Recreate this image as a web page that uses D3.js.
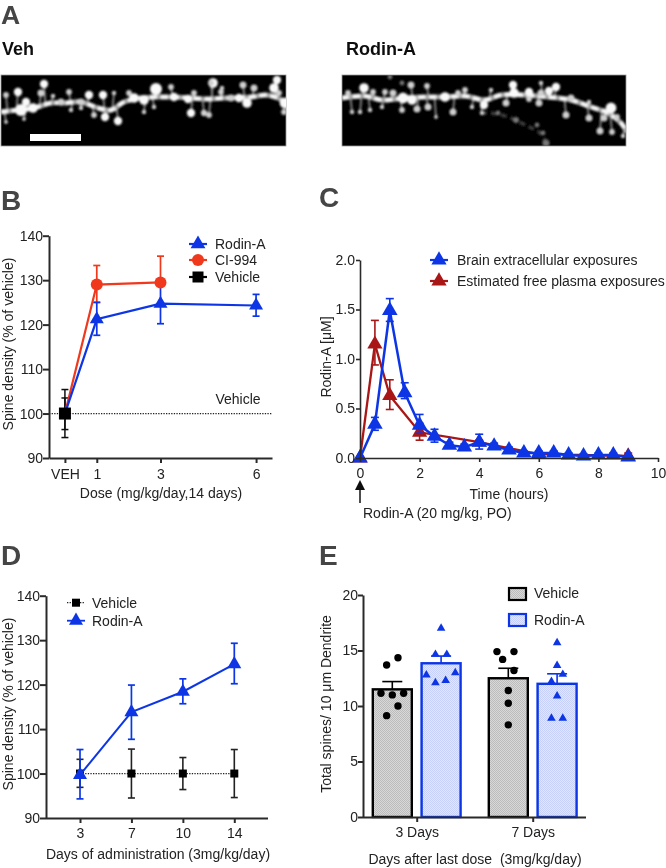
<!DOCTYPE html>
<html><head><meta charset="utf-8">
<script src="https://cdnjs.cloudflare.com/ajax/libs/d3/7.8.5/d3.min.js"></script>
<style>html,body{margin:0;padding:0;background:#fff}svg{display:block}
text{font-family:"Liberation Sans",Arial,sans-serif;fill:#222}</style></head>
<body><svg id="c" width="666" height="868"></svg>
<script>
// ---------- Panel A: micrograph traces (image units) ----------
const vehBackboneX=[0,17,33,50,63,80,97,110,123,140,157,173,190,207,223,250,264,274,286];
const vehBackboneY=[37,35,33,28,28,27,33,35,27,23,22,22,23,24,23,22,20,22,28];
const vehSpines=[[25,27,3],[20,35,4.5],[32,33,3.5],[155,14,4.5],[133,23,3.5],[143,25,3.5],[117,46,3],[104,42,3],[88,20,3],[102,20,3],[17,17,3],[43,9,3],[40,18,2.5],[5,20,2],[212,8,3.5],[190,38,3],[203,38,2.2],[128,18,2],[173,22,3],[143,37,1.5],[153,32,1.5],[68,17,2],[113,18,1.5],[170,12,2],[193,18,2],[220,17,2],[230,23,2.5],[23,44,1.2],[5,47,1.2],[60,27,2.5],[80,27,2.5],[70,35,1.5],[93,40,2],[80,33,1.5],[52,21,1.5],[187,24,3],[276,5,3],[273,13,3.5],[284,28,4],[283,37,2],[278,18,2],[242,10,2.5],[253,13,2.5],[246,28,3.5],[238,23,3],[208,40,2],[221,13,1.5],[210,8,2]];
const rodBackboneX=[0,23,40,63,83,103,123,143,159,182,206,229,249,266,279,285];
const rodBackboneY=[23,21,25,23,22,22,21,25,20,20,22,25,32,38,48,57];
const rodSpines=[[22,13,3.5],[6,18,2],[10,37,1.5],[18,37,1.5],[28,35,1.5],[31,17,2],[43,17,2],[40,32,1.5],[51,18,2.5],[61,23,4],[70,25,3.5],[69,10,2.5],[60,35,2],[75,34,2.5],[86,32,2.5],[85,11,2],[94,42,1.2],[111,37,2.5],[103,22,3.5],[116,18,2],[123,15,2],[130,32,1.5],[140,38,1.5],[171,10,3],[172,18,3.5],[187,17,3],[199,18,2.5],[199,8,1.5],[214,12,3],[207,16,3],[197,28,2.5],[164,28,2.5],[187,24,2],[142,30,3],[224,40,2.5],[229,23,2.5],[247,43,2.5],[247,27,1.5],[269,33,4],[262,43,2.5],[275,42,2],[258,56,2.5],[270,57,2],[281,61,1.5],[149,15,1.5]];
const rodFaintX=[139,156,174,189,201,204];
const rodFaintY=[38,38,45,53,58,70];
const rodFaintDots=[[174,45,2.5],[201,58,2],[195,50,2],[156,38,2],[204,68,3],[48,2,2],[60,8,2]];

// ---------- Panel B ----------
const doseX=[0,1,3,6];
const doseTickLabels=["VEH","1","3","6"];
const rodinDose=[100,121.2,124.7,124.3];
const rodinDoseLo=[100,117.6,120.2,121.9];
const rodinDoseHi=[100,125,129.2,126.8];
const ciDoseX=[0,1,3];
const ciDose=[100,129,129.5];
const ciDoseLo=[100,125,129.2];
const ciDoseHi=[100,133.3,135.4];
const vehDoseLo=[94.6,96.4];
const vehDoseHi=[105.4,103.5];

// ---------- Panel C ----------
const brainT=[0,.5,1,1.5,2,2.5,3,3.5,4,4.5,5,5.5,6,6.5,7,7.5,8,8.5,9];
const brainY=[0,.34,1.49,.66,.33,.22,.13,.11,.16,.12,.08,.05,.05,.05,.03,.02,.03,.03,.01];
const brainLo=[0,.28,1.38,.6,.25,.16,.1,.08,.09,.09,.06,.03,.03,.03,.01,.01,.01,.01,0];
const brainHi=[0,.41,1.61,.76,.44,.29,.16,.14,.24,.15,.11,.07,.07,.07,.05,.04,.05,.05,.02];
const plasmaT=[0,.5,1,2,4,6,9];
const plasmaY=[0,1.15,.63,.26,.16,.04,.02];
const plasmaLo=[0,.94,.49,.18,.14,.0,.0];
const plasmaHi=[0,1.39,.79,.35,.18,.06,.05];

// ---------- Panel D ----------
const dayLabels=["3","7","10","14"];
const vehDays=[100,100,100,100];
const vehDaysLo=[96.9,94.5,96.4,94.6];
const vehDaysHi=[103.2,105.5,103.6,105.4];
const rodDays=[99.7,113.8,118.4,124.6];
const rodDaysLo=[94.3,107.7,115.7,120.2];
const rodDaysHi=[105.4,119.9,121.3,129.3];

// ---------- Panel E ----------
const groupsE=["3 Days","7 Days"];
const vehMeans=[11.5,12.5];
const vehErrTop=[12.2,13.4];
const rodMeans=[13.85,12.0];
const rodErrTop=[14.5,12.9];
const vehPts=[[13.7,14.35,11.15,11,11.15,10,9.13],[14.9,14.9,14.2,13.2,11.4,10.25,8.3]];
const vehSlots=[[-1,1,-2,0,2,1,-1],[-2,1,-1,1,0,0,0]];
const rodPts=[[17,14.65,14.65,12.8,13,12.1,12.3],[15.7,13.65,12.85,12.2,10.9,8.9,8.9]];
const rodSlots=[[0,-1,1,-2.6,2.5,-1,.8],[0,0,1,-1,0,-1,1]];

const BLUE="#0a36e6",RED="#f0381e",DARK="#a81616",INK="#2b2b2b";
const svg=d3.select("#c");
const defs=svg.append("defs");
defs.append("filter").attr("id","soft").attr("x","-5%").attr("y","-5%").attr("width","110%").attr("height","110%")
  .append("feGaussianBlur").attr("stdDeviation",0.4);
defs.append("filter").attr("id","mic").attr("filterUnits","userSpaceOnUse").attr("x",0).attr("y",60).attr("width",666).attr("height",100)
  .append("feGaussianBlur").attr("stdDeviation",1.2);
function dots(id,base,dot){
  const p=defs.append("pattern").attr("id",id).attr("width",2).attr("height",2).attr("patternUnits","userSpaceOnUse");
  p.append("rect").attr("width",2).attr("height",2).attr("fill",base);
  p.append("rect").attr("width",1).attr("height",1).attr("fill",dot);
  p.append("rect").attr("x",1).attr("y",1).attr("width",1).attr("height",1).attr("fill",dot);
}
dots("gdots","#d8d8d8","#bcbcbc");
dots("bdots","#e2e7fc","#c6d0f8");
const root=svg.append("g").attr("filter","url(#soft)");

function label(t,x,y,o={}){
  const s=root.append("text").attr("x",x).attr("y",y).text(t)
    .attr("font-size",o.size||14).attr("text-anchor",o.anchor||"start");
  if(o.bold)s.attr("font-weight","bold");
  if(o.fill)s.style("fill",o.fill);
  if(o.rot)s.attr("transform",`rotate(${o.rot},${x},${y})`);
  return s;
}
function panelLetter(t,x,y,size){label(t,x,y,{size:size||28,bold:true,fill:"#444"});}
function styleAxis(g,w){
  g.selectAll("path,line").attr("stroke",INK).attr("stroke-width",w||2);
  g.selectAll("text").attr("font-size",14).style("font-family",'"Liberation Sans",Arial,sans-serif').style("fill","#222");
  g.attr("font-family",null);
}
const tri=(area)=>d3.symbol(d3.symbolTriangle).size(area)();
function errBars(g,xs,lo,hi,color,cap,w){
  xs.forEach((x,i)=>{
    if(lo[i]===hi[i])return;
    g.append("line").attr("x1",x).attr("x2",x).attr("y1",lo[i]).attr("y2",hi[i]).attr("stroke",color).attr("stroke-width",w);
    [lo[i],hi[i]].forEach(v=>g.append("line").attr("x1",x-cap).attr("x2",x+cap).attr("y1",v).attr("y2",v).attr("stroke",color).attr("stroke-width",w));
  });
}
function pathLine(g,xs,ys,color,w,dash){
  const p=g.append("path").attr("d",d3.line()(xs.map((x,i)=>[x,ys[i]]))).attr("fill","none").attr("stroke",color).attr("stroke-width",w);
  if(dash)p.attr("stroke-dasharray",dash);
}
function marks(g,xs,ys,kind,color,size){
  xs.forEach((x,i)=>{
    if(kind==="tri")g.append("path").attr("d",tri(size)).attr("transform",`translate(${x},${ys[i]})`).attr("fill",color);
    if(kind==="circ")g.append("circle").attr("cx",x).attr("cy",ys[i]).attr("r",size).attr("fill",color);
    if(kind==="sq")g.append("rect").attr("x",x-size/2).attr("y",ys[i]-size/2).attr("width",size).attr("height",size).attr("fill",color);
  });
}

// ===== Panel A =====
panelLetter("A",1,24,26.5);
label("Veh",2,55,{size:18,bold:true,fill:"#111"});
label("Rodin-A",346,55,{size:18,bold:true,fill:"#111"});
function micrograph(id,ox,oy,w,h,bx,by,spines,faint){
  const X=d3.scaleLinear().domain([0,w]).range([ox,ox+w]);
  const Y=d3.scaleLinear().domain([0,h]).range([oy,oy+h]);
  const bb=d3.scaleLinear().domain(bx).range(by);
  defs.append("clipPath").attr("id",id).append("rect").attr("x",ox).attr("y",oy).attr("width",w).attr("height",h);
  root.append("rect").attr("x",ox).attr("y",oy).attr("width",w).attr("height",h).attr("fill","#000").attr("stroke","#999").attr("stroke-width",.8);
  const g=root.append("g").attr("clip-path",`url(#${id})`).append("g").attr("filter","url(#mic)");
  if(faint){
    g.append("path").attr("d",d3.line().curve(d3.curveBasis)(faint.x.map((x,i)=>[X(x),Y(faint.y[i])])))
      .attr("fill","none").attr("stroke","#666").attr("stroke-width",3.5).attr("stroke-dasharray","6 4").attr("opacity",.6);
    faint.d.forEach(s=>g.append("circle").attr("cx",X(s[0])).attr("cy",Y(s[1])).attr("r",s[2]*1.2).attr("fill","#777"));
  }
  spines.forEach((s,i)=>{
    g.append("line").attr("x1",X(s[0])).attr("y1",Y(s[1])).attr("x2",X(s[0]+(i%2?1.5:-1.5))).attr("y2",Y(bb(s[0])))
      .attr("stroke","#8c8c8c").attr("stroke-width",1.8);
  });
  const line=d3.line().curve(d3.curveCatmullRom)(bx.map((x,i)=>[X(x),Y(by[i])]));
  g.append("path").attr("d",line).attr("fill","none").attr("stroke","#a8a8a8").attr("stroke-width",5);
  g.append("path").attr("d",line).attr("fill","none").attr("stroke","#f4f4f4").attr("stroke-width",4.5).attr("stroke-dasharray","7 4");
  spines.forEach(s=>g.append("circle").attr("cx",X(s[0])).attr("cy",Y(s[1])).attr("r",s[2]*1.25+.4).attr("fill",s[2]>=3?"#fafafa":"#d0d0d0"));
}
micrograph("m1",1,75,285,71,vehBackboneX,vehBackboneY,vehSpines);
micrograph("m2",342,75,284,71,rodBackboneX,rodBackboneY,rodSpines,{x:rodFaintX,y:rodFaintY,d:rodFaintDots});
root.append("rect").attr("x",30).attr("y",134).attr("width",51).attr("height",7).attr("fill","#fff");

// ===== Panel B =====
panelLetter("B",1,210);
{
  const x=d3.scaleLinear().domain([-.5,6.5]).range([49,272]);
  const y=d3.scaleLinear().domain([90,140]).range([458,235.7]);
  const g=root.append("g");
  styleAxis(root.append("g").attr("transform","translate(49,0)").call(d3.axisLeft(y).tickValues([90,100,110,120,130,140]).tickSize(6).tickPadding(0).tickSizeOuter(0)));
  styleAxis(root.append("g").attr("transform","translate(0,458)").call(d3.axisBottom(x).tickValues(doseX).tickFormat((d,i)=>doseTickLabels[i]).tickSize(5).tickPadding(6).tickSizeOuter(0)));
  pathLine(g,[x.range()[0],x.range()[1]],[y(100),y(100)],"#222",1.2,"1.3 1.3");
  errBars(g,ciDoseX.map(x),ciDoseLo.map(y),ciDoseHi.map(y),RED,3.5,1.7);
  errBars(g,doseX.map(x),rodinDoseLo.map(y),rodinDoseHi.map(y),BLUE,3.5,1.7);
  errBars(g,[x(0),x(0)],vehDoseLo.map(y),vehDoseHi.map(y),"#111",3.5,1.5);
  pathLine(g,ciDoseX.map(x),ciDose.map(y),RED,2.2);
  pathLine(g,doseX.map(x),rodinDose.map(y),BLUE,2.2);
  marks(g,ciDoseX.slice(1).map(x),ciDose.slice(1).map(y),"circ",RED,6);
  marks(g,doseX.slice(1).map(x),rodinDose.slice(1).map(y),"tri",BLUE,85);
  marks(g,[x(0)],[y(100)],"sq","#000",12);
  label("Vehicle",238,404,{anchor:"middle"});
  label("Spine density (% of vehicle)",13,344,{anchor:"middle",rot:-90});
  label("Dose (mg/kg/day,14 days)",161,498,{anchor:"middle"});
  [["Rodin-A",244,BLUE,"tri"],["CI-994",260,RED,"circ"],["Vehicle",277,"#000","sq"]].forEach(([t,ly,c,k])=>{
    pathLine(root,[189,207],[ly,ly],c,2.2);
    marks(root,[198],[ly],k,c,k==="tri"?95:k==="circ"?6:11);
    label(t,215,ly+5);
  });
}

// ===== Panel C =====
panelLetter("C",319,207);
{
  const x=d3.scaleLinear().domain([0,10]).range([360,658]);
  const y=d3.scaleLinear().domain([0,2]).range([458,260]);
  const g=root.append("g");
  styleAxis(root.append("g").attr("transform","translate(360,0)").call(d3.axisLeft(y).tickValues([0,.5,1,1.5,2]).tickFormat(d3.format(".1f")).tickSize(4).tickPadding(1).tickSizeOuter(0)),1.6);
  styleAxis(root.append("g").attr("transform","translate(0,458)").call(d3.axisBottom(x).tickValues([0,2,4,6,8,10]).tickFormat(d3.format("d")).tickSize(4).tickPadding(6).tickSizeOuter(0)),1.6);
  errBars(g,plasmaT.map(x),plasmaLo.map(y),plasmaHi.map(y),DARK,4,1.6);
  pathLine(g,plasmaT.map(x),plasmaY.map(y),DARK,2.3);
  marks(g,plasmaT.map(x),plasmaY.map(y),"tri",DARK,100);
  errBars(g,brainT.map(x),brainLo.map(y),brainHi.map(y),BLUE,4,1.6);
  pathLine(g,brainT.map(x),brainY.map(y),BLUE,2.5);
  marks(g,brainT.map(x),brainY.map(y),"tri",BLUE,105);
  label("Rodin-A [\u03bcM]",331,357,{anchor:"middle",rot:-90});
  label("Time (hours)",509,499,{anchor:"middle"});
  label("Rodin-A (20 mg/kg, PO)",363,518,{size:14});
  root.append("line").attr("x1",360).attr("x2",360).attr("y1",503).attr("y2",486).attr("stroke","#111").attr("stroke-width",1.5);
  root.append("path").attr("d",d3.line()([[360,480],[355,490],[365,490]])+"Z").attr("fill","#111");
  [["Brain extracellular exposures",260,BLUE],["Estimated free plasma exposures",281,DARK]].forEach(([t,ly,c])=>{
    pathLine(root,[430,448],[ly,ly],c,2.2);
    marks(root,[439],[ly],"tri",c,100);
    label(t,457,ly+5);
  });
}

// ===== Panel D =====
panelLetter("D",1,565);
{
  const x=d3.scalePoint().domain(dayLabels).range([80,234.3]);
  const y=d3.scaleLinear().domain([90,140]).range([818,595.7]);
  const xs=dayLabels.map(d=>x(d));
  const g=root.append("g");
  styleAxis(root.append("g").attr("transform","translate(46,0)").call(d3.axisLeft(y).tickValues([90,100,110,120,130,140]).tickSize(6).tickPadding(0).tickSizeOuter(0)));
  const ax=root.append("g").attr("transform","translate(0,818)").call(d3.axisBottom(x).tickSize(5).tickPadding(5).tickSizeOuter(0));
  ax.select(".domain").attr("d","M46,0.5H268");
  styleAxis(ax);
  errBars(g,xs,vehDaysLo.map(y),vehDaysHi.map(y),"#222",3.5,1.6);
  pathLine(g,xs,vehDays.map(y),"#222",1.2,"1.3 1.3");
  marks(g,xs,vehDays.map(y),"sq","#000",8);
  errBars(g,xs,rodDaysLo.map(y),rodDaysHi.map(y),BLUE,3.5,1.7);
  pathLine(g,xs,rodDays.map(y),BLUE,2);
  marks(g,xs,rodDays.map(y),"tri",BLUE,85);
  label("Spine density (% of vehicle)",13,704,{anchor:"middle",rot:-90});
  label("Days of administration (3mg/kg/day)",158,859,{anchor:"middle"});
  pathLine(root,[67,85],[602.7,602.7],"#222",1.2,"1.3 1.3");
  marks(root,[76],[602.7],"sq","#000",8);
  label("Vehicle",92,608);
  pathLine(root,[67,85],[620.7,620.7],BLUE,1.8);
  marks(root,[76],[620.7],"tri",BLUE,85);
  label("Rodin-A",92,626);
}

// ===== Panel E =====
panelLetter("E",319,565);
{
  const x=d3.scalePoint().domain(groupsE).range([416.7,532.7]);
  const y=d3.scaleLinear().domain([0,20]).range([817,595]);
  const g=root.append("g");
  const bw=39,off=24.4,slot=5.67;
  const series=[
    {m:vehMeans,e:vehErrTop,p:vehPts,s:vehSlots,sgn:-1,c:"#000",fill:"url(#gdots)",k:"circ",sz:3.7},
    {m:rodMeans,e:rodErrTop,p:rodPts,s:rodSlots,sgn:1,c:BLUE,fill:"url(#bdots)",k:"tri",sz:32}
  ];
  series.forEach(S=>groupsE.forEach((gr,i)=>{
    const cx=x(gr)+S.sgn*off;
    g.append("rect").attr("x",cx-bw/2).attr("width",bw).attr("y",y(S.m[i])).attr("height",y(0)-y(S.m[i]))
      .attr("fill",S.fill).attr("stroke",S.c).attr("stroke-width",2.4);
    g.append("line").attr("x1",cx).attr("x2",cx).attr("y1",y(S.m[i])).attr("y2",y(S.e[i])).attr("stroke",S.c).attr("stroke-width",1.6);
    g.append("line").attr("x1",cx-10).attr("x2",cx+10).attr("y1",y(S.e[i])).attr("y2",y(S.e[i])).attr("stroke",S.c).attr("stroke-width",1.6);
    marks(g,S.s[i].map(v=>cx+v*slot),S.p[i].map(y),S.k,S.c,S.sz);
  }));
  styleAxis(root.append("g").attr("transform","translate(363,0)").call(d3.axisLeft(y).tickValues([0,5,10,15,20]).tickSize(5).tickPadding(0).tickSizeOuter(0)));
  const ax=root.append("g").attr("transform","translate(0,817)").call(d3.axisBottom(x).tickSize(5).tickPadding(5).tickSizeOuter(0));
  ax.select(".domain").attr("d","M363,0.5H586");
  styleAxis(ax);
  label("Total spines/ 10 \u03bcm Dendrite",331,704,{anchor:"middle",rot:-90});
  label("Days after last dose  (3mg/kg/day)",475,864,{anchor:"middle"}).style("white-space","pre");
  [["Vehicle",588,"#000","url(#gdots)",598,534],["Rodin-A",614,BLUE,"url(#bdots)",625,534]].forEach(([t,ry,c,f,by,tx])=>{
    root.append("rect").attr("x",509).attr("y",ry).attr("width",17).attr("height",12).attr("fill",f).attr("stroke",c).attr("stroke-width",2.2);
    label(t,tx,by);
  });
}
</script></body></html>
